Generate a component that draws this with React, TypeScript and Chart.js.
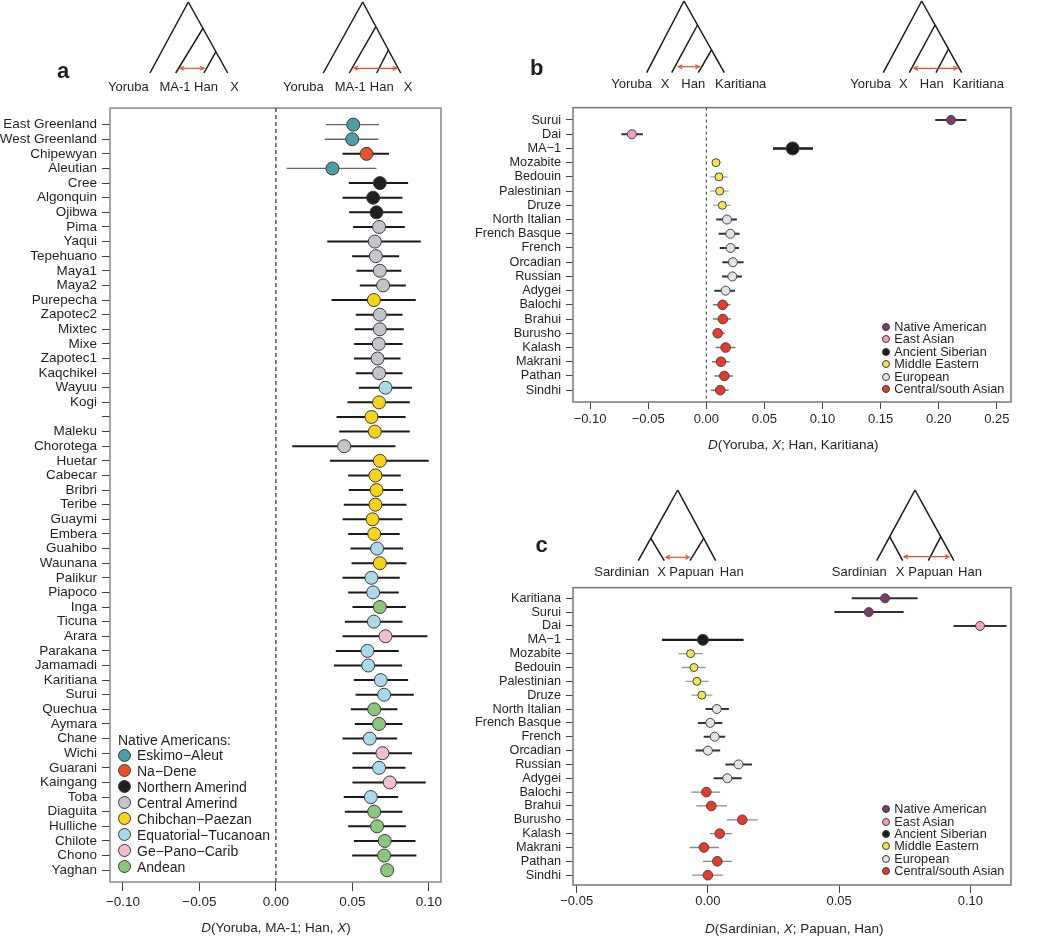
import React, { useEffect, useRef } from 'react';
import { Chart, registerables } from 'chart.js';

Chart.register(...registerables);

const FONT = "'Liberation Sans', Arial, Helvetica, sans-serif";
const TEXT = '#231f20';

// ---------------- Panel a data ----------------
const A_LABELS = [
  'East Greenland', 'West Greenland', 'Chipewyan', 'Aleutian', 'Cree', 'Algonquin', 'Ojibwa', 'Pima', 'Yaqui',
  'Tepehuano', 'Maya1', 'Maya2', 'Purepecha', 'Zapotec2', 'Mixtec', 'Mixe', 'Zapotec1', 'Kaqchikel', 'Wayuu',
  'Kogi', '', 'Maleku', 'Chorotega', 'Huetar', 'Cabecar', 'Bribri', 'Teribe', 'Guaymi', 'Embera', 'Guahibo',
  'Waunana', 'Palikur', 'Piapoco', 'Inga', 'Ticuna', 'Arara', 'Parakana', 'Jamamadi', 'Karitiana', 'Surui',
  'Quechua', 'Aymara', 'Chane', 'Wichi', 'Guarani', 'Kaingang', 'Toba', 'Diaguita', 'Hulliche', 'Chilote',
  'Chono', 'Yaghan',
];
const A_VALUES = [
  0.0506, 0.0499, 0.0593, 0.037, 0.068, 0.0636, 0.0658, 0.0675, 0.0647,
  0.0654, 0.068, 0.0701, 0.0641, 0.068, 0.068, 0.0673, 0.0665, 0.0675, 0.0717,
  0.0675, 0.0625, 0.0647, 0.0447, 0.068, 0.0651, 0.0658, 0.0651, 0.0632, 0.0643, 0.0662,
  0.068, 0.0625, 0.0636, 0.068, 0.0641, 0.0717, 0.0599, 0.0604, 0.0686, 0.0708,
  0.0643, 0.0675, 0.0614, 0.0697, 0.0675, 0.0745, 0.0621, 0.0643, 0.0662, 0.0712,
  0.0708, 0.0728,
];
const A_LOW = [
  0.0327, 0.032, 0.0436, 0.007, 0.0477, 0.0436, 0.0479, 0.0505, 0.0336,
  0.0499, 0.0527, 0.0549, 0.0364, 0.0523, 0.0516, 0.0512, 0.051, 0.0523, 0.0543,
  0.0468, 0.0397, 0.0414, 0.0107, 0.0353, 0.0473, 0.0477, 0.0444, 0.0436, 0.0473, 0.0488,
  0.0495, 0.0436, 0.0473, 0.0501, 0.0451, 0.0436, 0.0392, 0.0379, 0.051, 0.0521,
  0.049, 0.0516, 0.0436, 0.0501, 0.0501, 0.0501, 0.0444, 0.0451, 0.0473, 0.051,
  0.0499, 0.0705,
];
const A_HIGH = [
  0.0675, 0.0671, 0.074, 0.0658, 0.0865, 0.0828, 0.0828, 0.0843, 0.0948,
  0.0806, 0.0821, 0.085, 0.0915, 0.0828, 0.0837, 0.0828, 0.0815, 0.0828, 0.0891,
  0.0876, 0.0848, 0.0876, 0.0782, 0.1, 0.0817, 0.0832, 0.0854, 0.0828, 0.081, 0.0832,
  0.0854, 0.081, 0.0804, 0.085, 0.0828, 0.0991, 0.0804, 0.0826, 0.0865, 0.0902,
  0.0795, 0.0828, 0.0793, 0.0891, 0.0848, 0.098, 0.08, 0.0828, 0.085, 0.0913,
  0.0919, 0.0752,
];
// 0 Eskimo-Aleut, 1 Na-Dene, 2 Northern Amerind, 3 Central Amerind, 4 Chibchan-Paezan,
// 5 Equatorial-Tucanoan, 6 Ge-Pano-Carib, 7 Andean
const A_GROUP = [
  0, 0, 1, 0, 2, 2, 2, 3, 3,
  3, 3, 3, 4, 3, 3, 3, 3, 3, 5,
  4, 4, 4, 3, 4, 4, 4, 4, 4, 4, 5,
  4, 5, 5, 7, 5, 6, 5, 5, 5, 5,
  7, 7, 5, 6, 5, 6, 5, 7, 7, 7,
  7, 7,
];
const A_GROUP_NAMES = [
  'Eskimo−Aleut', 'Na−Dene', 'Northern Amerind', 'Central Amerind', 'Chibchan−Paezan',
  'Equatorial−Tucanoan', 'Ge−Pano−Carib', 'Andean',
];
const A_GROUP_COLORS = ['#4b9fa5', '#e9532b', '#231f20', '#c3c5cb', '#f7d417', '#a9daea', '#f3bfd0', '#8ac97c'];
const A_TICKS = [-0.1, -0.05, 0, 0.05, 0.1];

// ---------------- Panel b data ----------------
const B_LABELS = [
  'Surui', 'Dai', 'MA−1', 'Mozabite', 'Bedouin', 'Palestinian', 'Druze', 'North Italian', 'French Basque',
  'French', 'Orcadian', 'Russian', 'Adygei', 'Balochi', 'Brahui', 'Burusho', 'Kalash', 'Makrani', 'Pathan', 'Sindhi',
];
const B_VALUES = [
  0.2106, -0.064, 0.0743, 0.0083, 0.0109, 0.0115, 0.0138, 0.0178, 0.0207,
  0.0209, 0.0229, 0.0224, 0.0166, 0.0141, 0.0143, 0.0098, 0.0166, 0.0126, 0.0155, 0.012,
];
const B_LOW = [
  0.197, -0.0731, 0.0574, 0.0049, 0.0029, 0.0032, 0.0057, 0.0086, 0.0106,
  0.0115, 0.0138, 0.0135, 0.0069, 0.0057, 0.0057, 0.006, 0.008, 0.0049, 0.0069, 0.004,
];
const B_HIGH = [
  0.2238, -0.0545, 0.0918, 0.0129, 0.0184, 0.0192, 0.0212, 0.0264, 0.0287,
  0.0281, 0.0321, 0.0307, 0.0247, 0.0207, 0.0212, 0.0158, 0.025, 0.0201, 0.0229, 0.0192,
];
// 0 Native American, 1 East Asian, 2 Ancient Siberian, 3 Middle Eastern, 4 European, 5 Central/south Asian
const B_GROUP = [0, 1, 2, 3, 3, 3, 3, 4, 4, 4, 4, 4, 4, 5, 5, 5, 5, 5, 5, 5];
const B_TICKS = [-0.1, -0.05, 0, 0.05, 0.1, 0.15, 0.2, 0.25];

// ---------------- Panel c data ----------------
const C_LABELS = [
  'Karitiana', 'Surui', 'Dai', 'MA−1', 'Mozabite', 'Bedouin', 'Palestinian', 'Druze', 'North Italian',
  'French Basque', 'French', 'Orcadian', 'Russian', 'Adygei', 'Balochi', 'Brahui', 'Burusho', 'Kalash',
  'Makrani', 'Pathan', 'Sindhi',
];
const C_VALUES = [
  0.0675, 0.0613, 0.1037, -0.0019, -0.0066, -0.0053, -0.0042, -0.0023, 0.0034,
  0.0009, 0.0026, 0.0, 0.0117, 0.0074, -0.0006, 0.0013, 0.0131, 0.0045,
  -0.0015, 0.0036, 0.0,
];
const C_LOW = [
  0.0548, 0.0482, 0.0936, -0.0175, -0.0112, -0.0099, -0.0085, -0.0063, -0.0009,
  -0.0038, -0.0016, -0.0047, 0.0067, 0.0022, -0.0063, -0.0044, 0.0072, 0.0008,
  -0.007, -0.0019, -0.0059,
];
const C_HIGH = [
  0.0799, 0.0746, 0.1138, 0.0136, -0.0019, -0.0009, 0.0003, 0.0017, 0.008,
  0.0055, 0.0066, 0.0047, 0.0168, 0.0129, 0.0047, 0.0072, 0.019, 0.0092,
  0.0042, 0.0091, 0.0057,
];
const C_GROUP = [0, 0, 1, 2, 3, 3, 3, 3, 4, 4, 4, 4, 4, 4, 5, 5, 5, 5, 5, 5, 5];
const C_TICKS = [-0.05, 0, 0.05, 0.1];

const REGION_NAMES = ['Native American', 'East Asian', 'Ancient Siberian', 'Middle Eastern', 'European', 'Central/south Asian'];
const REGION_COLORS = ['#7d3b6c', '#f19ec6', '#1b1b1b', '#f3e64a', '#e3e3e3', '#e8392b'];

// ---------------- helpers ----------------
const fmtTick = (v: number) => {
  const s = Math.abs(v).toFixed(2);
  return v < -1e-9 ? '\u2212' + s : s;
};

const boxPlugin = {
  id: 'box',
  beforeDatasetsDraw(chart: any, _args: any, opts: any) {
    const { ctx, chartArea } = chart;
    ctx.save();
    ctx.strokeStyle = opts.color || '#777';
    ctx.lineWidth = opts.width || 1.5;
    ctx.strokeRect(chartArea.left, chartArea.top, chartArea.right - chartArea.left, chartArea.bottom - chartArea.top);
    ctx.restore();
  },
};

type Spec = {
  labels: string[]; values: number[]; low: number[]; high: number[]; group: number[];
  colors: string[]; whiskColors: string[]; whiskWidths: number[]; radii: number[]; pointBorder: string;
  xTicks: number[]; xMin: number; xMax: number; yMin: number; yMax: number;
  zero: null | { dash: number[]; width: number; color: string };
  left: number; top: number; width: number; height: number; padTop: number; padRight: number;
  yAxisW: number; xAxisH: number; yFont: number; xFont: number; yTickLen: number; xTickLen: number;
  yPad: number; xPad: number; boxColor: string;
};

function PanelChart({ spec }: { spec: Spec }) {
  const ref = useRef<HTMLCanvasElement>(null);
  useEffect(() => {
    const s = spec;
    const pts = s.values.map((v, i) => ({ x: v, y: i }));
    const whisk: any[] = [];
    s.low.forEach((lo, i) => {
      whisk.push({ x: lo, y: i }, { x: s.high[i], y: i }, { x: null, y: null });
    });
    const rowOf = (c: any) => s.group[Math.floor(c.p0DataIndex / 3)];
    const datasets: any[] = [
      {
        data: pts,
        pointBackgroundColor: s.group.map((g) => s.colors[g]),
        pointBorderColor: s.pointBorder,
        pointBorderWidth: 1,
        pointRadius: s.group.map((g) => s.radii[g]),
        showLine: false,
        order: 0,
      },
      {
        data: whisk,
        showLine: true,
        spanGaps: false,
        pointRadius: 0,
        borderWidth: 2,
        borderColor: '#222',
        borderCapStyle: 'butt',
        segment: {
          borderColor: (c: any) => s.whiskColors[rowOf(c)],
          borderWidth: (c: any) => s.whiskWidths[rowOf(c)],
        },
        order: 5,
      },
    ];
    if (s.zero) {
      datasets.push({
        data: [{ x: 0, y: s.yMin }, { x: 0, y: s.yMax }],
        showLine: true,
        pointRadius: 0,
        borderColor: s.zero.color,
        borderWidth: s.zero.width,
        borderDash: s.zero.dash,
        order: 10,
      });
    }
    Chart.defaults.font.family = FONT;
    Chart.defaults.color = TEXT;
    const chart = new Chart(ref.current as HTMLCanvasElement, {
      type: 'scatter',
      data: { datasets },
      plugins: [boxPlugin],
      options: {
        animation: false,
        responsive: false,
        events: [],
        layout: { padding: { top: s.padTop, right: s.padRight, left: 0, bottom: 0 } },
        plugins: {
          legend: { display: false },
          tooltip: { enabled: false },
          box: { color: s.boxColor, width: 1.5 },
        } as any,
        scales: {
          x: {
            type: 'linear',
            min: s.xMin,
            max: s.xMax,
            afterBuildTicks: (sc: any) => { sc.ticks = s.xTicks.map((v) => ({ value: v })); },
            afterFit: (sc: any) => { sc.height = s.xAxisH; },
            ticks: { callback: (v: any) => fmtTick(Number(v)), font: { size: s.xFont }, color: TEXT, padding: s.xPad, autoSkip: false, maxRotation: 0 },
            grid: { drawOnChartArea: false, drawTicks: true, tickLength: s.xTickLen, color: '#444', lineWidth: 1 },
            border: { display: false },
          },
          y: {
            type: 'linear',
            reverse: true,
            min: s.yMin,
            max: s.yMax,
            afterBuildTicks: (sc: any) => { sc.ticks = s.labels.map((_, i) => ({ value: i })); },
            afterFit: (sc: any) => { sc.width = s.yAxisW; },
            ticks: { callback: (v: any) => s.labels[Number(v)] ?? '', font: { size: s.yFont }, color: TEXT, padding: s.yPad, autoSkip: false },
            grid: { drawOnChartArea: false, drawTicks: true, tickLength: s.yTickLen, color: '#444', lineWidth: 1 },
            border: { display: false },
          },
        } as any,
      },
    } as any);
    return () => chart.destroy();
  }, [spec]);
  return (
    <canvas
      ref={ref}
      width={spec.width}
      height={spec.height}
      style={{ position: 'absolute', left: spec.left, top: spec.top, width: spec.width, height: spec.height }}
    />
  );
}

const SPEC_A: Spec = {
  labels: A_LABELS, values: A_VALUES, low: A_LOW, high: A_HIGH, group: A_GROUP,
  colors: A_GROUP_COLORS,
  whiskColors: ['#666', '#1a1a1a', '#1a1a1a', '#1a1a1a', '#1a1a1a', '#1a1a1a', '#1a1a1a', '#1a1a1a'],
  whiskWidths: [1.3, 2, 2, 2, 2, 2, 2, 2],
  radii: [6.5, 6.5, 6.5, 6.5, 6.5, 6.5, 6.5, 6.5], pointBorder: '#3a3a3a',
  xTicks: A_TICKS, xMin: -0.1085, xMax: 0.108, yMin: -1.13, yMax: 51.81,
  zero: { dash: [4, 3], width: 1.5, color: '#555' },
  left: 0, top: 95, width: 450, height: 841, padTop: 4, padRight: 9,
  yAxisW: 110, xAxisH: 54, yFont: 13.5, xFont: 13.5, yTickLen: 8, xTickLen: 9, yPad: 5, xPad: 3, boxColor: '#888',
};

const SPEC_B: Spec = {
  labels: B_LABELS, values: B_VALUES, low: B_LOW, high: B_HIGH, group: B_GROUP,
  colors: REGION_COLORS,
  whiskColors: ['#3a2a35', '#333', '#1a1a1a', '#aaa', '#333', '#777'],
  whiskWidths: [2.2, 2, 2.5, 1.2, 2, 1.5],
  radii: [4.5, 4.5, 6.5, 4, 4.5, 4.8], pointBorder: '#444',
  xTicks: B_TICKS, xMin: -0.1147, xMax: 0.2622, yMin: -0.87, yMax: 19.83,
  zero: { dash: [3, 3], width: 1, color: '#333' },
  left: 460, top: 95, width: 590, height: 365, padTop: 5, padRight: 39,
  yAxisW: 113, xAxisH: 58, yFont: 12.7, xFont: 13, yTickLen: 7, xTickLen: 7, yPad: 5, xPad: 3, boxColor: '#777',
};

const SPEC_C: Spec = {
  labels: C_LABELS, values: C_VALUES, low: C_LOW, high: C_HIGH, group: C_GROUP,
  colors: REGION_COLORS,
  whiskColors: ['#3a2a35', '#333', '#1a1a1a', '#999', '#333', '#888'],
  whiskWidths: [2, 2, 2.2, 1.3, 2, 1.3],
  radii: [4.5, 4.5, 5.5, 4, 4.5, 4.8], pointBorder: '#444',
  xTicks: C_TICKS, xMin: -0.0514, xMax: 0.1155, yMin: -0.77, yMax: 20.71,
  zero: null,
  left: 460, top: 575, width: 590, height: 361, padTop: 10, padRight: 39,
  yAxisW: 113, xAxisH: 51, yFont: 12.7, xFont: 13, yTickLen: 7, xTickLen: 8, yPad: 5, xPad: 1, boxColor: '#777',
};

// ---------------- trees ----------------
function onLine(ax: number, ay: number, bx: number, by: number, y: number) {
  return ax + (bx - ax) * ((y - ay) / (by - ay));
}

function Arrow({ x1, x2, y }: { x1: number; x2: number; y: number }) {
  const c = '#e8502a';
  return (
    <g stroke={c} strokeWidth={1.2} fill="none">
      <line x1={x1} y1={y} x2={x2} y2={y} />
      <polyline points={`${x1 + 4},${y - 2} ${x1},${y} ${x1 + 4},${y + 2}`} />
      <polyline points={`${x2 - 4},${y - 2} ${x2},${y} ${x2 - 4},${y + 2}`} />
    </g>
  );
}

function Caterpillar({ ax, ay, ly, leaves, n1, n2 }: { ax: number; ay: number; ly: number; leaves: number[]; n1: number; n2: number }) {
  const n1x = onLine(ax, ay, leaves[3], ly, n1);
  const n2x = onLine(ax, ay, leaves[3], ly, n2);
  return (
    <g stroke="#1a1a1a" strokeWidth={1.5} fill="none">
      <line x1={ax} y1={ay} x2={leaves[0]} y2={ly} />
      <line x1={ax} y1={ay} x2={leaves[3]} y2={ly} />
      <line x1={n1x} y1={n1} x2={leaves[1]} y2={ly} />
      <line x1={n2x} y1={n2} x2={leaves[2]} y2={ly} />
    </g>
  );
}

function Symmetric({ ax, ay, ly, leaves, ny }: { ax: number; ay: number; ly: number; leaves: number[]; ny: number }) {
  const lx = onLine(ax, ay, leaves[0], ly, ny);
  const rx = onLine(ax, ay, leaves[3], ly, ny);
  return (
    <g stroke="#1a1a1a" strokeWidth={1.5} fill="none">
      <line x1={ax} y1={ay} x2={leaves[0]} y2={ly} />
      <line x1={ax} y1={ay} x2={leaves[3]} y2={ly} />
      <line x1={lx} y1={ny} x2={leaves[1]} y2={ly} />
      <line x1={rx} y1={ny} x2={leaves[2]} y2={ly} />
    </g>
  );
}

function Labels({ items, y }: { items: [string, number][]; y: number }) {
  return (
    <g fontFamily={FONT} fontSize={13} fill={TEXT}>
      {items.map(([t, x], i) => (
        <text key={i} x={x} y={y} textAnchor="middle" dominantBaseline="central">{t}</text>
      ))}
    </g>
  );
}

function Trees() {
  return (
    <svg width={1050} height={936} style={{ position: 'absolute', left: 0, top: 0, pointerEvents: 'none' }}>
      {/* panel a */}
      <Caterpillar ax={188.3} ay={2} ly={73} leaves={[150, 175.7, 204, 227.7]} n1={28.3} n2={51.7} />
      <Arrow x1={180} x2={204} y={68.3} />
      <Labels y={86} items={[['Yoruba', 128.3], ['MA-1', 175], ['Han', 206], ['X', 234.7]]} />
      <Caterpillar ax={362.7} ay={2} ly={73} leaves={[323.3, 349.3, 376.7, 400.7]} n1={26.7} n2={50} />
      <Arrow x1={354} x2={396.7} y={68.3} />
      <Labels y={86} items={[['Yoruba', 303.3], ['MA-1', 350.3], ['Han', 381.7], ['X', 408]]} />
      {/* panel b */}
      <Caterpillar ax={684} ay={1} ly={72.7} leaves={[646.7, 671.7, 698.3, 724.3]} n1={25} n2={50} />
      <Arrow x1={678.3} x2={699.3} y={66.7} />
      <Labels y={83.3} items={[['Yoruba', 631.7], ['X', 665], ['Han', 693.3], ['Karitiana', 740.7]]} />
      <Caterpillar ax={921.7} ay={1} ly={72.7} leaves={[883.3, 909.3, 936, 961.7]} n1={25} n2={49} />
      <Arrow x1={914} x2={957.3} y={68.3} />
      <Labels y={83.3} items={[['Yoruba', 870.7], ['X', 903.3], ['Han', 931.7], ['Karitiana', 978.3]]} />
      {/* panel c */}
      <Symmetric ax={677.7} ay={490} ly={560.7} leaves={[638.3, 664.3, 690, 715.7]} ny={538.3} />
      <Arrow x1={666} x2={689.3} y={557.3} />
      <Labels y={571.7} items={[['Sardinian', 621.7], ['X', 661.7], ['Papuan', 691.7], ['Han', 731.7]]} />
      <Symmetric ax={915} ay={490} ly={560.7} leaves={[876.7, 902.7, 928.3, 954]} ny={536.7} />
      <Arrow x1={904} x2={949} y={556.7} />
      <Labels y={571.7} items={[['Sardinian', 859.3], ['X', 900], ['Papuan', 930.7], ['Han', 970]]} />
    </svg>
  );
}

// ---------------- legends & titles ----------------
function Dot({ cx, cy, d, color }: { cx: number; cy: number; d: number; color: string }) {
  return (
    <div style={{
      position: 'absolute', left: cx - d / 2, top: cy - d / 2, width: d, height: d, boxSizing: 'border-box',
      borderRadius: '50%', border: '1px solid #3a3a3a', background: color,
    }} />
  );
}

function LegendA() {
  return (
    <>
      <div style={{ position: 'absolute', left: 118, top: 731, fontSize: 14, lineHeight: '18px', whiteSpace: 'nowrap' }}>Native Americans:</div>
      {A_GROUP_NAMES.map((n, i) => {
        const y = 755 + 15.95 * i;
        return (
          <React.Fragment key={n}>
            <Dot cx={124} cy={y} d={13} color={A_GROUP_COLORS[i]} />
            <div style={{ position: 'absolute', left: 137, top: y - 9, fontSize: 14, lineHeight: '18px', whiteSpace: 'nowrap' }}>{n}</div>
          </React.Fragment>
        );
      })}
    </>
  );
}

function LegendRegion({ y0, step }: { y0: number; step: number }) {
  return (
    <>
      {REGION_NAMES.map((n, i) => {
        const y = y0 + step * i;
        return (
          <React.Fragment key={n}>
            <Dot cx={885.7} cy={y} d={8} color={REGION_COLORS[i]} />
            <div style={{ position: 'absolute', left: 894.3, top: y - 8, fontSize: 12.7, lineHeight: '16px', whiteSpace: 'nowrap' }}>{n}</div>
          </React.Fragment>
        );
      })}
    </>
  );
}

function AxisTitle({ cx, cy, children }: { cx: number; cy: number; children: React.ReactNode }) {
  return (
    <div style={{ position: 'absolute', left: cx - 200, top: cy - 9, width: 400, textAlign: 'center', fontSize: 13.5, lineHeight: '18px', whiteSpace: 'nowrap' }}>
      {children}
    </div>
  );
}

function Letter({ cx, cy, t }: { cx: number; cy: number; t: string }) {
  return (
    <div style={{ position: 'absolute', left: cx - 20, top: cy - 14, width: 40, textAlign: 'center', fontSize: 22, fontWeight: 'bold', lineHeight: '28px' }}>{t}</div>
  );
}

export default function App() {
  return (
    <div style={{ position: 'absolute', left: 0, top: 0, width: 1050, height: 936, background: '#fff', overflow: 'hidden', fontFamily: FONT, color: TEXT }}>
      <PanelChart spec={SPEC_A} />
      <PanelChart spec={SPEC_B} />
      <PanelChart spec={SPEC_C} />
      <Trees />
      <LegendA />
      <LegendRegion y0={326.7} step={12.45} />
      <LegendRegion y0={809.3} step={12.35} />
      <AxisTitle cx={276} cy={928}><i>D</i>(Yoruba, MA-1; Han, <i>X</i>)</AxisTitle>
      <AxisTitle cx={793.3} cy={445}><i>D</i>(Yoruba, <i>X</i>; Han, Karitiana)</AxisTitle>
      <AxisTitle cx={794.2} cy={929}><i>D</i>(Sardinian, <i>X</i>; Papuan, Han)</AxisTitle>
      <Letter cx={63} cy={71} t="a" />
      <Letter cx={536.7} cy={68.3} t="b" />
      <Letter cx={541.7} cy={545} t="c" />
    </div>
  );
}
